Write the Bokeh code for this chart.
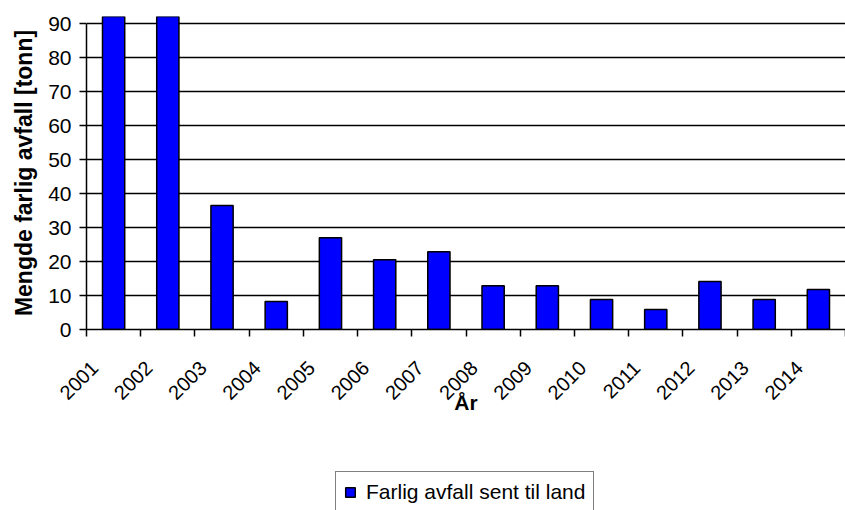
from bokeh.plotting import figure
from bokeh.layouts import column
from bokeh.models import Range1d, FixedTicker, Legend, LegendItem, ColumnDataSource
from bokeh.embed import file_html
from bokeh.resources import INLINE
import math

# Hazardous waste shipped ashore per year (tonnes)
years = ["2001", "2002", "2003", "2004", "2005", "2006", "2007",
         "2008", "2009", "2010", "2011", "2012", "2013", "2014"]
amounts = [145.0, 110.0, 36.5, 8.2, 27.0, 20.5, 22.9,
           12.9, 12.9, 8.8, 5.9, 14.1, 8.8, 11.8]
y_ticks = [0, 10, 20, 30, 40, 50, 60, 70, 80, 90]
series_name = "Farlig avfall sent til land"

FONT = "Liberation Sans"
SLOT = 10  # x units per year slot
BAR_STYLE = dict(fill_color="#0000FF", line_color="black", line_width=1.5)

src = ColumnDataSource(dict(
    x=[i * SLOT + SLOT / 2 for i in range(len(years))],
    top=amounts,
    year=years,
))

p = figure(width=845, height=460, output_backend="svg", toolbar_location=None,
           x_range=Range1d(0, SLOT * len(years)), y_range=Range1d(0, 92.06),
           min_border_left=86, min_border_right=0, min_border_top=16,
           min_border_bottom=131)
p.outline_line_color = None
p.background_fill_color = "white"
p.border_fill_color = "white"

p.vbar(x="x", top="top", width=4.1, bottom=0, source=src, **BAR_STYLE)

# y axis
p.yaxis.ticker = FixedTicker(ticks=y_ticks)
p.yaxis.bounds = (0, 90)
p.yaxis.axis_line_color = "black"
p.yaxis.axis_line_width = 1.5
p.yaxis.major_tick_line_color = "black"
p.yaxis.major_tick_line_width = 1.5
p.yaxis.major_tick_out = 7
p.yaxis.major_tick_in = 0
p.yaxis.minor_tick_line_color = None
p.yaxis.major_label_text_font = FONT
p.yaxis.major_label_text_font_size = "21px"
p.yaxis.major_label_text_color = "black"
p.yaxis.major_label_standoff = 8
p.yaxis.axis_label = "Mengde farlig avfall [tonn]"
p.yaxis.axis_label_text_font = FONT
p.yaxis.axis_label_text_font_style = "bold"
p.yaxis.axis_label_text_font_size = "23px"
p.yaxis.axis_label_text_color = "black"
p.yaxis.axis_label_standoff = 8

# x axis: slot boundaries as tick marks, year labels just right of each boundary
label_pos = [i * SLOT + 1.5 for i in range(len(years))]
p.xaxis.ticker = FixedTicker(ticks=label_pos,
                             minor_ticks=[i * SLOT for i in range(len(years) + 1)])
p.xaxis.major_label_overrides = {pos: y for pos, y in zip(label_pos, years)}
p.xaxis.major_tick_line_color = None
p.xaxis.minor_tick_line_color = "black"
p.xaxis.minor_tick_line_width = 1.5
p.xaxis.minor_tick_out = 7
p.xaxis.minor_tick_in = 0
p.xaxis.axis_line_color = "black"
p.xaxis.axis_line_width = 1.5
p.xaxis.major_label_orientation = math.pi / 4
p.xaxis.major_label_text_font = FONT
p.xaxis.major_label_text_font_size = "20px"
p.xaxis.major_label_text_color = "black"
p.xaxis.major_label_standoff = 28
p.xaxis.axis_label = "År"
p.xaxis.axis_label_text_font = FONT
p.xaxis.axis_label_text_font_style = "bold"
p.xaxis.axis_label_text_font_size = "21px"
p.xaxis.axis_label_text_color = "black"
p.xaxis.axis_label_standoff = -18

p.xgrid.grid_line_color = None
p.ygrid.ticker = FixedTicker(ticks=y_ticks)
p.ygrid.grid_line_color = "black"
p.ygrid.grid_line_width = 1.5
p.ygrid.level = "underlay"

# legend strip underneath the chart (its frame lines up with the chart's frame);
# the key glyph is an empty placeholder bar with the same styling
leg = figure(width=845, height=50, output_backend="svg", toolbar_location=None,
             x_range=Range1d(0, 1), y_range=Range1d(0, 1),
             x_axis_type=None, y_axis_type=None,
             min_border_left=86, min_border_right=0, min_border_top=0,
             min_border_bottom=0)
leg.outline_line_color = None
leg.grid.visible = False
leg.background_fill_color = "white"
leg.border_fill_color = "white"
key_src = ColumnDataSource(dict(x=[float("nan")], top=[float("nan")]))
swatch = leg.vbar(x="x", top="top", width=0.1, bottom=0, source=key_src, **BAR_STYLE)

legend = Legend(items=[LegendItem(label=series_name, renderers=[swatch])],
                location=(249, -3), orientation="horizontal",
                label_text_font=FONT, label_text_font_size="21px",
                label_text_color="black",
                glyph_width=12, glyph_height=12, padding=8, margin=0,
                label_standoff=10, border_line_color="black", border_line_width=1.5,
                background_fill_color="white", background_fill_alpha=1.0)
leg.add_layout(legend, "center")

open("out.html", "w").write(file_html(column(p, leg, spacing=0), INLINE))
